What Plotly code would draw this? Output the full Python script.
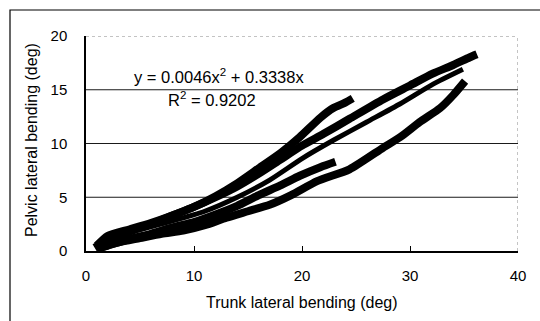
import plotly.graph_objects as go

# Trial curves: trunk lateral bending (x) vs pelvic lateral bending (y), in degrees
trial_a_x = [0.8, 2, 4, 6, 8, 10, 12, 14, 16, 18, 19.8, 21.7, 22.9, 24.0, 24.7]
trial_a_y = [0.3, 1.0, 1.8, 2.5, 3.3, 4.1, 5.1, 6.3, 7.7, 9.1, 10.6, 12.4, 13.3, 13.8, 14.2]

trial_b_x = [1, 2, 4, 6, 8, 10, 12, 14, 16, 18, 20, 22, 24.4, 27.5, 30, 32.1, 34, 35.5, 36.2]
trial_b_y = [0.5, 1.4, 2.0, 2.6, 3.3, 4.1, 5.0, 6.0, 7.2, 8.5, 9.8, 10.9, 12.3, 14.1, 15.4, 16.5, 17.3, 18.0, 18.3]

trial_c_x = [34.9, 32.1, 29.1, 26, 22.9, 20, 17, 14, 11, 8, 5, 2.5, 1.5]
trial_c_y = [16.9, 15.5, 13.7, 12.0, 10.3, 8.6, 6.6, 5.0, 3.7, 2.8, 2.0, 1.5, 1.0]

trial_d_x = [1, 3, 5, 7, 9, 11, 13, 15, 17, 19, 21.4, 24.4, 27.5, 29.1, 30.9, 32.8, 34, 35.1]
trial_d_y = [0.2, 0.8, 1.2, 1.6, 1.9, 2.4, 3.1, 3.7, 4.3, 5.2, 6.5, 7.6, 9.6, 10.6, 12.0, 13.3, 14.5, 15.8]

trial_e_x = [1, 2, 4, 6, 8, 10, 12, 14, 16, 18, 19.8, 21.7, 23.1]
trial_e_y = [0.2, 0.5, 1.1, 1.6, 2.2, 2.7, 3.4, 4.2, 5.2, 6.1, 7.0, 7.8, 8.3]

x_ticks = [0, 10, 20, 30, 40]
y_ticks = [0, 5, 10, 15, 20]
grid_y = [5, 10, 15]

eq_text = "y = 0.0046x<sup>2</sup> + 0.3338x"
r2_text = "R<sup>2</sup> = 0.9202"
x_title = "Trunk lateral bending (deg)"
y_title = "Pelvic lateral bending (deg)"

FONT = "Liberation Sans, Arial, sans-serif"

fig = go.Figure()
for xs, ys, w in [(trial_d_x, trial_d_y, 8), (trial_e_x, trial_e_y, 8),
                  (trial_c_x, trial_c_y, 5), (trial_b_x, trial_b_y, 8),
                  (trial_a_x, trial_a_y, 8)]:
    fig.add_trace(go.Scatter(x=xs, y=ys, mode="lines",
                             line=dict(color="black", width=w, shape="spline", smoothing=0.6),
                             showlegend=False, hoverinfo="skip"))

shapes = []
for gy in grid_y:
    shapes.append(dict(type="line", xref="x", yref="y", x0=0, x1=40, y0=gy, y1=gy,
                       line=dict(color="#1a1a1a", width=1.2), layer="below"))
# dotted top and right plot border
shapes.append(dict(type="line", xref="x", yref="y", x0=0, x1=40, y0=20, y1=20,
                   line=dict(color="#888", width=1, dash="dot")))
shapes.append(dict(type="line", xref="x", yref="y", x0=40, x1=40, y0=0, y1=20,
                   line=dict(color="#888", width=1, dash="dot")))
# outer chart frame
shapes.append(dict(type="rect", xref="paper", yref="paper",
                   x0=-76/432, x1=1.08, y0=-0.4, y1=(251-10)/215,
                   line=dict(color="black", width=1.2), fillcolor="rgba(0,0,0,0)"))

annotations = [
    dict(text=eq_text, x=12.3, y=16.25, xref="x", yref="y", showarrow=False,
         xanchor="center", yanchor="middle",
         font=dict(family=FONT, size=16.5, color="black")),
    dict(text=r2_text, x=11.7, y=14.15, xref="x", yref="y", showarrow=False,
         xanchor="center", yanchor="middle",
         font=dict(family=FONT, size=16.5, color="black")),
    dict(text=x_title, x=0.5, y=(251-302)/215, xref="paper", yref="paper",
         xanchor="center", yanchor="middle",
         showarrow=False, font=dict(family=FONT, size=16, color="black")),
    dict(text=y_title, x=(31-86)/432, y=(251-140)/215, xref="paper", yref="paper",
         xanchor="center", yanchor="middle",
         showarrow=False, textangle=-90, font=dict(family=FONT, size=16, color="black")),
]

fig.update_layout(
    width=540, height=321,
    margin=dict(l=86, r=22, t=36, b=70),
    paper_bgcolor="white", plot_bgcolor="white",
    shapes=shapes, annotations=annotations,
    font=dict(family=FONT, size=15, color="black"),
    xaxis=dict(range=[0, 40], tickvals=x_ticks, ticks="inside", ticklen=5,
               tickcolor="black", showline=True, linecolor="black", linewidth=1.5,
               showgrid=False, zeroline=False, ticklabelstandoff=10,
               tickfont=dict(family=FONT, size=15, color="black")),
    yaxis=dict(range=[0, 20], tickvals=y_ticks, ticks="", showline=True,
               linecolor="black", linewidth=1.5, showgrid=False, zeroline=False,
               ticklabelstandoff=14,
               tickfont=dict(family=FONT, size=15, color="black")),
)

fig.write_html("out.html")
